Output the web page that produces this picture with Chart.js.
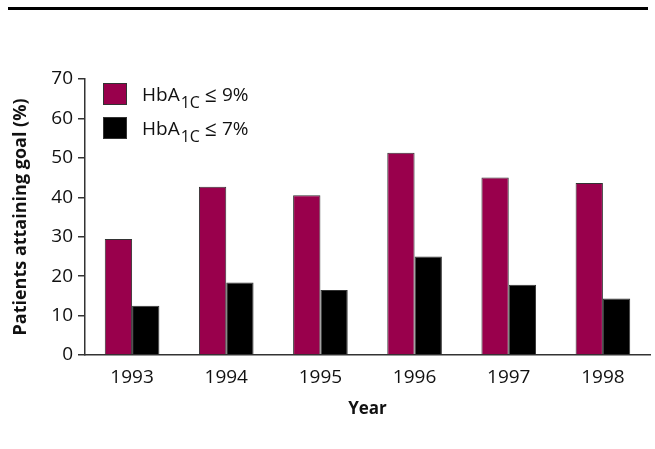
<!DOCTYPE html>
<html>
<head>
<meta charset="utf-8">
<script src="https://cdn.jsdelivr.net/npm/chart.js@4.4.1/dist/chart.umd.min.js"></script>
<style>
  html, body { margin: 0; padding: 0; background: #fff; }
  #wrap { position: relative; width: 655px; height: 449px; }
  #rule { position: absolute; left: 8px; top: 7px; width: 640px; height: 3px; background: #000; }
</style>
</head>
<body>
<div id="wrap">
  <div id="rule"></div>
  <canvas id="chart" width="655" height="449"></canvas>
</div>
<script>
const years = ["1993", "1994", "1995", "1996", "1997", "1998"];
const goal9 = [29.4, 42.7, 40.5, 51.3, 45.0, 43.6];
const goal7 = [12.5, 18.4, 16.5, 25.0, 17.8, 14.3];
const seriesLabels = ["9%", "7%"];
const seriesColors = ["#99004c", "#000000"];
const yTicks = [0, 10, 20, 30, 40, 50, 60, 70];

const font = "'Open Sans', 'Noto Sans', sans-serif";

// legend with subscript "1C", drawn in the upper left of the plot
const hbaLegend = {
  id: "hbaLegend",
  afterDraw(chart) {
    const { ctx, chartArea } = chart;
    const x = chartArea.left + 18;
    seriesLabels.forEach((lab, i) => {
      const y = chartArea.top + 4 + i * 34;
      ctx.save();
      ctx.fillStyle = seriesColors[i];
      ctx.strokeStyle = "#333";
      ctx.lineWidth = 1;
      ctx.fillRect(x, y, 24, 22);
      ctx.strokeRect(x + 0.5, y + 0.5, 23, 21);
      ctx.fillStyle = "#111";
      ctx.textBaseline = "alphabetic";
      let tx = x + 39;
      const base = y + 18;
      ctx.font = "19px " + font;
      ctx.fillText("HbA", tx, base);
      tx += ctx.measureText("HbA").width + 1;
      ctx.font = "16px " + font;
      ctx.fillText("1C", tx, base + 7);
      tx += ctx.measureText("1C").width + 5;
      ctx.font = "21px " + font;
      ctx.fillText("\u2264", tx, base + 1);
      tx += ctx.measureText("\u2264").width + 5;
      ctx.font = "19px " + font;
      ctx.fillText(lab, tx, base);
      ctx.restore();
    });
  }
};

new Chart(document.getElementById("chart"), {
  type: "bar",
  data: {
    labels: years,
    datasets: [
      { label: "HbA1C \u2264 9%", data: goal9, backgroundColor: seriesColors[0] },
      { label: "HbA1C \u2264 7%", data: goal7, backgroundColor: seriesColors[1] }
    ]
  },
  options: {
    responsive: false,
    animation: false,
    layout: { padding: { top: 79, right: 5, left: 6, bottom: 0 } },
    datasets: {
      bar: {
        categoryPercentage: 0.58,
        barPercentage: 1.0,
        borderWidth: 1,
        borderColor: "#333"
      }
    },
    plugins: {
      legend: { display: false },
      tooltip: { enabled: false }
    },
    scales: {
      x: {
        grid: { display: false },
        border: { display: true, color: "#333", width: 1.5 },
        ticks: { color: "#111", font: { family: font, size: 19 }, padding: 3 },
        title: {
          display: true, text: "Year", color: "#111",
          font: { family: font, size: 17, weight: "bold" }, padding: { top: 2, bottom: 30 }
        },
        afterFit(scale) { scale.height = 94; }
      },
      y: {
        min: 0,
        max: 70,
        afterBuildTicks(scale) { scale.ticks = yTicks.map(v => ({ value: v })); },
        grid: { display: true, drawOnChartArea: false, drawTicks: true, tickLength: 7, color: "#333", lineWidth: 1.5 },
        border: { display: true, color: "#333", width: 1.5 },
        ticks: { color: "#111", font: { family: font, size: 19 }, padding: 5 },
        title: {
          display: true, text: "Patients attaining goal (%)", color: "#111",
          font: { family: font, size: 18, weight: "bold" }, padding: { bottom: 4 }
        },
        afterFit(scale) { scale.width = 79; }
      }
    }
  },
  plugins: [hbaLegend]
});
</script>
</body>
</html>
